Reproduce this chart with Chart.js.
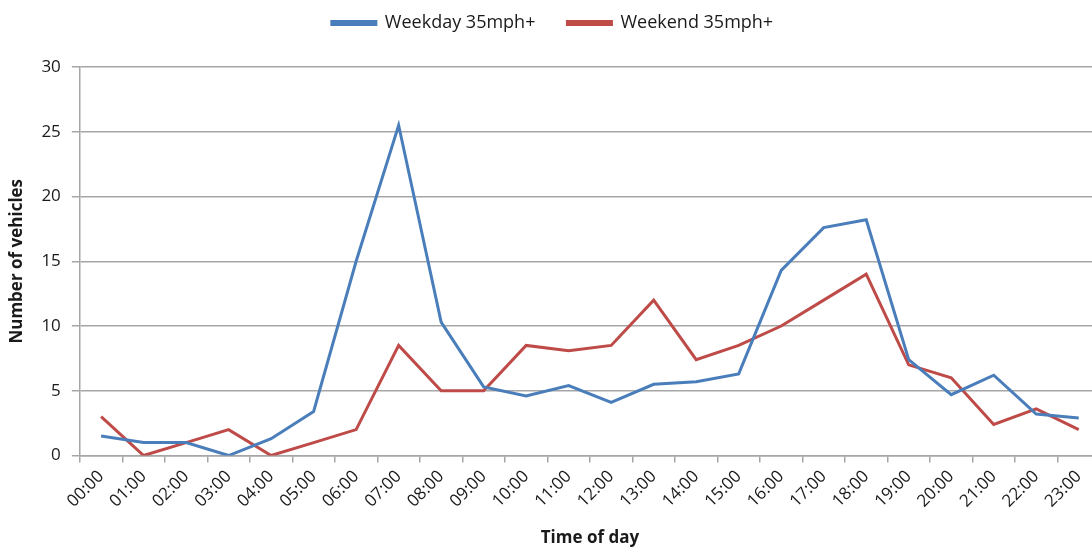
<!DOCTYPE html>
<html>
<head>
<meta charset="utf-8">
<script src="https://cdn.jsdelivr.net/npm/chart.js@4/dist/chart.umd.min.js"></script>
<style>
  html, body { margin: 0; padding: 0; background: #fff; overflow: hidden; }
  #wrap { width: 1100px; height: 552px; }
</style>
</head>
<body>
<div id="wrap"><canvas id="speedChart" width="1100" height="552"></canvas></div>
<script>
// Data: vehicles over 35mph by hour
const hours = ["00:00", "01:00", "02:00", "03:00", "04:00", "05:00", "06:00", "07:00",
    "08:00", "09:00", "10:00", "11:00", "12:00", "13:00", "14:00", "15:00",
    "16:00", "17:00", "18:00", "19:00", "20:00", "21:00", "22:00", "23:00"];
const weekday = [1.5, 1.0, 1.0, 0, 1.3, 3.4, 15, 25.5, 10.3, 5.3, 4.6, 5.4,
    4.1, 5.5, 5.7, 6.3, 14.3, 17.6, 18.2, 7.4, 4.7, 6.2, 3.2, 2.9];
const weekend = [3, 0, 1, 2, 0, 1, 2, 8.5, 5, 5, 8.5, 8.1,
    8.5, 12, 7.4, 8.5, 10, 12, 14, 7, 6, 2.4, 3.6, 2];
const yTicks = [0, 5, 10, 15, 20, 25, 30];

const blueColor = "#4a7ebb";
const redColor = "#be4b48";
const gridColor = "#a6a6a6";
const textColor = "#1a1a1a";
const fontName = "'Open Sans', sans-serif";

// extra room under the legend
const legendSpacer = {
    id: "legendSpacer",
    beforeInit(chart) {
        const origFit = chart.legend.fit;
        chart.legend.fit = function () {
            origFit.bind(chart.legend)();
            this.height += 25;
        };
    },
};

new Chart(document.getElementById("speedChart").getContext("2d"), {
    type: "line",
    data: {
        labels: hours,
        datasets: [
            {
                label: "Weekday 35mph+",
                data: weekday,
                borderColor: blueColor,
                backgroundColor: blueColor,
                borderWidth: 3,
                pointRadius: 0,
                tension: 0,
            },
            {
                label: "Weekend 35mph+",
                data: weekend,
                borderColor: redColor,
                backgroundColor: redColor,
                borderWidth: 3,
                pointRadius: 0,
                tension: 0,
            },
        ],
    },
    options: {
        responsive: false,
        animation: false,
        layout: { padding: { left: 5, right: 0, top: -18, bottom: 2 } },
        scales: {
            x: {
                offset: true,
                border: { color: gridColor, width: 1.5 },
                grid: {
                    offset: true,
                    drawOnChartArea: false,
                    drawTicks: true,
                    tickLength: 7,
                    color: gridColor,
                    lineWidth: 1.5,
                },
                ticks: {
                    color: textColor,
                    autoSkip: false,
                    maxRotation: 45,
                    minRotation: 45,
                    padding: 4,
                    font: { family: fontName, size: 17 },
                },
                title: {
                    display: true,
                    text: "Time of day",
                    color: textColor,
                    font: { family: fontName, size: 17, weight: "bold" },
                    padding: { top: 12, bottom: 2 },
                },
            },
            y: {
                min: 0,
                max: 30,
                afterBuildTicks: function (axis) {
                    axis.ticks = yTicks.map((v) => ({ value: v }));
                },
                border: { color: gridColor, width: 1.5 },
                grid: {
                    color: gridColor,
                    lineWidth: 1.5,
                    tickLength: 8,
                },
                ticks: {
                    color: textColor,
                    padding: 11,
                    font: { family: fontName, size: 17 },
                },
                title: {
                    display: true,
                    text: "Number of vehicles",
                    color: textColor,
                    font: { family: fontName, size: 17, weight: "bold" },
                    padding: { top: 2, bottom: 3 },
                },
            },
        },
        plugins: {
            legend: {
                position: "top",
                labels: {
                    color: textColor,
                    boxWidth: 44,
                    boxHeight: 3,
                    padding: 32,
                    font: { family: fontName, size: 18 },
                },
            },
            tooltip: { enabled: false },
        },
    },
    plugins: [legendSpacer],
});
</script>
</body>
</html>
